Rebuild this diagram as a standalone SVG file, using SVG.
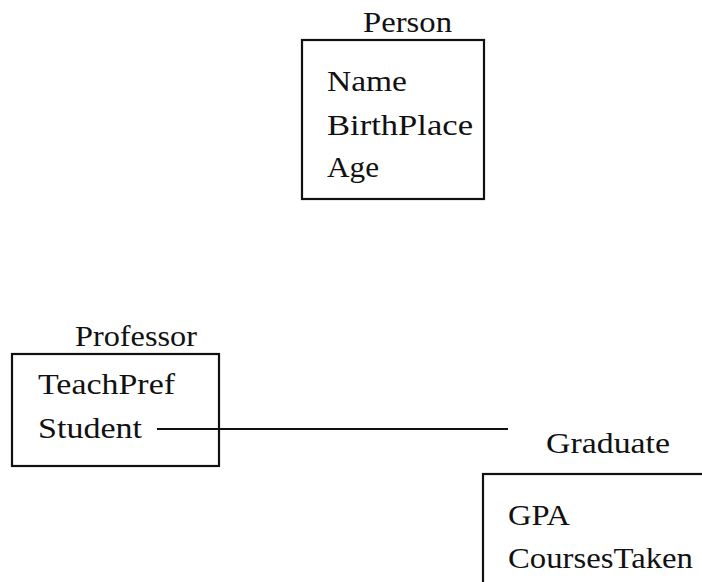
<svg xmlns="http://www.w3.org/2000/svg" width="702" height="582" viewBox="0 0 702 582">
<style>
.box{fill:none;stroke:#111;stroke-width:2.2}
.conn{stroke:#111;stroke-width:2.2;fill:none}
</style>
<rect width="702" height="582" fill="#fff"/>
<g font-family="Liberation Serif, Times New Roman, serif" font-size="29" fill="#111">
<g id="person">
<text x="363" y="32" textLength="89" lengthAdjust="spacingAndGlyphs">Person</text>
<rect class="box" x="302" y="40" width="182" height="159"/>
<text x="327" y="91" textLength="80" lengthAdjust="spacingAndGlyphs">Name</text>
<text x="327" y="135" textLength="146" lengthAdjust="spacingAndGlyphs">BirthPlace</text>
<text x="327" y="177" textLength="52" lengthAdjust="spacingAndGlyphs">Age</text>
</g>
<g id="professor">
<text x="75" y="346" textLength="122" lengthAdjust="spacingAndGlyphs">Professor</text>
<rect class="box" x="12" y="354" width="207" height="112"/>
<text x="38" y="394" textLength="137" lengthAdjust="spacingAndGlyphs">TeachPref</text>
<text x="38" y="438" textLength="104" lengthAdjust="spacingAndGlyphs">Student</text>
</g>
<g id="graduate">
<text x="546" y="453" textLength="124" lengthAdjust="spacingAndGlyphs">Graduate</text>
<rect class="box" x="483" y="474" width="300" height="200"/>
<text x="508" y="525" textLength="62" lengthAdjust="spacingAndGlyphs">GPA</text>
<text x="508" y="568" textLength="185" lengthAdjust="spacingAndGlyphs">CoursesTaken</text>
</g>
</g>
<g id="connectors">
<line class="conn" x1="157" y1="429" x2="508" y2="429"/>
</g>
</svg>
